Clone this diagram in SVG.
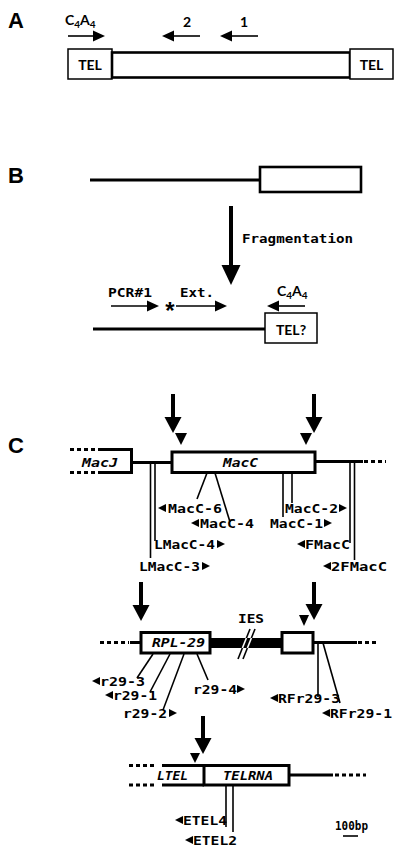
<svg xmlns="http://www.w3.org/2000/svg" xmlns:xlink="http://www.w3.org/1999/xlink" width="400" height="858" viewBox="0 0 400 858">
<style>
.lbl{font-family:"Liberation Sans",Arial,sans-serif;font-weight:bold;font-size:22px;fill:#000}
.s{font-family:Lato,"Open Sans",sans-serif;font-size:14px;font-weight:bold;fill:#000}
.sub{font-size:10px}
.m{font-family:"DejaVu Sans Mono","Liberation Mono",monospace;font-size:13px;font-weight:bold;fill:#000}
.mi{font-family:"DejaVu Sans Mono","Liberation Mono",monospace;font-size:13px;font-weight:bold;font-style:italic;fill:#000}
.box{fill:#fff;stroke:#000;stroke-width:3}
.tbox{fill:#fff;stroke:#000;stroke-width:1.5}
.ln{stroke:#000;stroke-width:3;fill:none}
.dash{stroke:#000;stroke-width:3;stroke-dasharray:4 3;fill:none}
.pr{stroke:#000;stroke-width:1.6;fill:none}
.big{stroke:#000;stroke-width:4;fill:none}
.thin{stroke:#000;stroke-width:1.6;fill:none}
.tri{fill:#000}
</style>
<defs>
<path id="tl" d="M0,0 L8,-4 L8,4 Z"/>
<path id="tr" d="M0,0 L-8,-4 L-8,4 Z"/>
<path id="hdown" d="M-8.5,0 L8.5,0 L0,16 Z"/>
<path id="hleft" d="M0,0 L12,-5.5 L12,5.5 Z"/>
<path id="hright" d="M0,0 L-12,-5.5 L-12,5.5 Z"/>
</defs>

<!-- Panel labels -->
<text class="lbl" x="8" y="28">A</text>
<text class="lbl" x="8" y="183">B</text>
<text class="lbl" x="8" y="453">C</text>

<!-- Panel A -->
<g id="A-tel-left">
<rect class="tbox" x="68" y="49" width="44" height="30"/>
<text class="s" x="90" y="70" text-anchor="middle">TEL</text>
</g>
<g id="A-body">
<rect x="112" y="52.5" width="238" height="25" fill="#fff" stroke="#000" stroke-width="2.6"/>
</g>
<g id="A-tel-right">
<rect class="tbox" x="350" y="49" width="43" height="30"/>
<text class="s" x="371.5" y="70" text-anchor="middle">TEL</text>
</g>
<g id="A-primers">
<text class="s" x="65" y="25">C<tspan class="sub" dy="3">4</tspan><tspan dy="-3">A</tspan><tspan class="sub" dy="3">4</tspan></text>
<text class="s" x="187" y="27" text-anchor="middle">2</text>
<text class="s" x="244" y="27" text-anchor="middle">1</text>
</g>

<!-- Panel B -->
<g id="B-top">
<line class="ln" x1="90" y1="180" x2="260" y2="180" stroke-width="2.6"/>
<rect x="260" y="167" width="101" height="25" fill="#fff" stroke="#000" stroke-width="2.6"/>
</g>
<g id="B-bottom">
<line class="ln" x1="93" y1="329" x2="265" y2="329" stroke-width="3.5"/>
<rect class="tbox" x="265" y="313" width="52" height="30"/>
<text class="s" x="291" y="335" text-anchor="middle">TEL?</text>
</g>
<g id="B-labels">
<text class="m" x="242" y="243" textLength="111" lengthAdjust="spacingAndGlyphs">Fragmentation</text>
<text class="m" x="108" y="297" textLength="44" lengthAdjust="spacingAndGlyphs">PCR#1</text>
<text class="m" x="180" y="297" textLength="34" lengthAdjust="spacingAndGlyphs">Ext.</text>
<text x="170" y="319" text-anchor="middle" font-family="Liberation Sans,Arial,sans-serif" font-weight="bold" font-size="24">*</text>
<text class="s" x="277" y="296">C<tspan class="sub" dy="3">4</tspan><tspan dy="-3">A</tspan><tspan class="sub" dy="3">4</tspan></text>
</g>

<!-- Panel C row 1 -->
<g id="MacJ">
<line class="dash" x1="70" y1="449.5" x2="102" y2="449.5"/>
<line class="dash" x1="70" y1="472.5" x2="102" y2="472.5"/>
<path class="ln" d="M102,449.5 H131.5 V472.5 H102"/>
<text class="mi" x="82" y="467" textLength="36" lengthAdjust="spacingAndGlyphs">MacJ</text>
</g>
<g id="MacC">
<line class="ln" x1="131.5" y1="462.5" x2="172" y2="462.5"/>
<rect class="box" x="172" y="452" width="143" height="20.5"/>
<text class="mi" x="223" y="467" textLength="35" lengthAdjust="spacingAndGlyphs">MacC</text>
<line class="ln" x1="315" y1="461.5" x2="363" y2="461.5" stroke-width="3.6"/>
<line class="dash" x1="364" y1="461.5" x2="386" y2="461.5"/>
</g>

<!-- Panel C row 2 -->
<g id="RPL-29">
<line class="dash" x1="100" y1="642.5" x2="129" y2="642.5"/>
<line class="ln" x1="130" y1="642.5" x2="141" y2="642.5"/>
<rect class="box" x="141" y="632.5" width="69" height="20.5"/>
<text class="mi" x="152" y="647" textLength="53" lengthAdjust="spacingAndGlyphs">RPL-29</text>
</g>
<g id="IES">
<line class="thin" x1="250" y1="629" x2="238" y2="659"/>
<line class="thin" x1="255" y1="629" x2="243" y2="659"/>
<rect x="210" y="638" width="72" height="10" fill="#000"/>
<line x1="246.4" y1="638" x2="242.4" y2="648" stroke="#fff" stroke-width="1.6"/>
<line x1="251.4" y1="638" x2="247.4" y2="648" stroke="#fff" stroke-width="1.6"/>
<text class="m" x="251" y="623" text-anchor="middle" textLength="26" lengthAdjust="spacingAndGlyphs">IES</text>
</g>
<g id="exon2">
<rect class="box" x="282" y="632.5" width="31" height="20.5"/>
<line class="ln" x1="313" y1="642.5" x2="357" y2="642.5"/>
<line class="dash" x1="358" y1="642.5" x2="377" y2="642.5"/>
</g>

<!-- Panel C row 3 -->
<g id="LTEL">
<line class="dash" x1="129" y1="765.5" x2="157" y2="765.5"/>
<line class="dash" x1="129" y1="785" x2="157" y2="785"/>
<line class="ln" x1="162" y1="765.5" x2="204" y2="765.5"/>
<line class="ln" x1="162" y1="785" x2="204" y2="785"/>
<text class="mi" x="157" y="780" textLength="31" lengthAdjust="spacingAndGlyphs">LTEL</text>
</g>
<g id="TELRNA">
<rect class="box" x="204" y="765.5" width="85" height="19.5"/>
<text class="mi" x="223" y="780" textLength="50" lengthAdjust="spacingAndGlyphs">TELRNA</text>
<line class="ln" x1="289" y1="775" x2="333" y2="775"/>
<line class="dash" x1="335" y1="775" x2="366" y2="775"/>
</g>

<g id="scale">
<text class="m" x="335" y="830" font-size="11" textLength="33" lengthAdjust="spacingAndGlyphs">100bp</text>
<line class="thin" x1="343" y1="836" x2="358" y2="836"/>
</g>

<g id="primer-labels">
<use href="#tl" x="158" y="508" class="tri"/><text class="m" x="168" y="513" textLength="54" lengthAdjust="spacingAndGlyphs">MacC-6</text>
<use href="#tl" x="191" y="523" class="tri"/><text class="m" x="200" y="528" textLength="54" lengthAdjust="spacingAndGlyphs">MacC-4</text>
<text class="m" x="285" y="513" textLength="53" lengthAdjust="spacingAndGlyphs">MacC-2</text><use href="#tr" x="347" y="508" class="tri"/>
<text class="m" x="270" y="528" textLength="53" lengthAdjust="spacingAndGlyphs">MacC-1</text><use href="#tr" x="332" y="523" class="tri"/>
<text class="m" x="154" y="549" textLength="61" lengthAdjust="spacingAndGlyphs">LMacC-4</text><use href="#tr" x="225" y="544" class="tri"/>
<use href="#tl" x="297" y="544" class="tri"/><text class="m" x="305" y="549" textLength="45" lengthAdjust="spacingAndGlyphs">FMacC</text>
<text class="m" x="139" y="571" textLength="61" lengthAdjust="spacingAndGlyphs">LMacC-3</text><use href="#tr" x="210" y="566" class="tri"/>
<use href="#tl" x="323" y="566" class="tri"/><text class="m" x="331" y="571" textLength="56" lengthAdjust="spacingAndGlyphs">2FMacC</text>

<use href="#tl" x="92" y="681" class="tri"/><text class="m" x="100" y="686" textLength="45" lengthAdjust="spacingAndGlyphs">r29-3</text>
<use href="#tl" x="105" y="695" class="tri"/><text class="m" x="113" y="700" textLength="44" lengthAdjust="spacingAndGlyphs">r29-1</text>
<text class="m" x="123" y="718" textLength="44" lengthAdjust="spacingAndGlyphs">r29-2</text><use href="#tr" x="177" y="713" class="tri"/>
<text class="m" x="193" y="694" textLength="44" lengthAdjust="spacingAndGlyphs">r29-4</text><use href="#tr" x="245" y="689" class="tri"/>
<use href="#tl" x="270" y="698" class="tri"/><text class="m" x="278" y="703" textLength="62" lengthAdjust="spacingAndGlyphs">RFr29-3</text>
<use href="#tl" x="322" y="713" class="tri"/><text class="m" x="330" y="718" textLength="62" lengthAdjust="spacingAndGlyphs">RFr29-1</text>

<use href="#tl" x="175" y="820" class="tri"/><text class="m" x="183" y="825" textLength="44" lengthAdjust="spacingAndGlyphs">ETEL4</text>
<use href="#tl" x="185" y="840" class="tri"/><text class="m" x="193" y="845" textLength="44" lengthAdjust="spacingAndGlyphs">ETEL2</text>
</g>

<g id="connectors">
<!-- A primer arrows -->
<line class="thin" x1="68" y1="36" x2="94" y2="36" stroke-width="2"/><use href="#hright" x="105" y="36" class="tri"/>
<line class="thin" x1="200" y1="36" x2="173" y2="36" stroke-width="2"/><use href="#hleft" x="162" y="36" class="tri"/>
<line class="thin" x1="258" y1="36" x2="231" y2="36" stroke-width="2"/><use href="#hleft" x="220" y="36" class="tri"/>
<!-- B -->
<line class="big" x1="231" y1="206" x2="231" y2="266" stroke-width="4.5"/>
<path class="tri" d="M221.5,265 L240.5,265 L231,285 Z"/>
<line class="thin" x1="111" y1="306" x2="148" y2="306"/><use href="#hright" x="159" y="306" class="tri"/>
<line class="thin" x1="176" y1="306" x2="216" y2="306"/><use href="#hright" x="227" y="306" class="tri"/>
<line class="thin" x1="305" y1="306" x2="278" y2="306" stroke-width="2"/><use href="#hleft" x="267" y="306" class="tri"/>
<!-- C big arrows -->
<line class="big" x1="173" y1="394" x2="173" y2="418"/><use href="#hdown" x="173" y="417" class="tri"/>
<line class="big" x1="314" y1="394" x2="314" y2="418"/><use href="#hdown" x="314" y="417" class="tri"/>
<line class="big" x1="141" y1="582" x2="141" y2="606"/><use href="#hdown" x="141" y="605" class="tri"/>
<line class="big" x1="314" y1="582" x2="314" y2="605"/><use href="#hdown" x="314" y="604" class="tri"/>
<line class="big" x1="203" y1="716" x2="203" y2="739"/><use href="#hdown" x="203" y="738" class="tri"/>
<!-- cut site triangles -->
<path class="tri" d="M175,433 L187,433 L181,445 Z"/>
<path class="tri" d="M300,433 L312,433 L306,445 Z"/>
<path class="tri" d="M299,615 L309,615 L304,626 Z"/>
<path class="tri" d="M190,753 L200,753 L195,763 Z"/>
<!-- primer lines row 1 -->
<line class="pr" x1="150.5" y1="463" x2="150.5" y2="558"/>
<line class="pr" x1="155" y1="463" x2="155" y2="541"/>
<line class="pr" x1="207" y1="473" x2="197" y2="499"/>
<line class="pr" x1="215" y1="473" x2="230" y2="522"/>
<line class="pr" x1="283" y1="473" x2="283" y2="517"/>
<line class="pr" x1="292" y1="473" x2="292" y2="503"/>
<line class="pr" x1="350" y1="462" x2="350" y2="543"/>
<line class="pr" x1="354.5" y1="462" x2="354.5" y2="560"/>
<!-- primer lines row 2 -->
<line class="pr" x1="153" y1="654" x2="137" y2="678"/>
<line class="pr" x1="170" y1="654" x2="150" y2="692"/>
<line class="pr" x1="184" y1="654" x2="163" y2="710"/>
<line class="pr" x1="197" y1="654" x2="208" y2="680"/>
<line class="pr" x1="318" y1="643" x2="318" y2="697"/>
<line class="pr" x1="323" y1="643" x2="340" y2="703"/>
<!-- primer lines row 3 -->
<line class="pr" x1="226" y1="786" x2="226" y2="827" stroke-width="2"/>
<line class="pr" x1="233" y1="786" x2="233" y2="832"/>
</g>
</svg>
